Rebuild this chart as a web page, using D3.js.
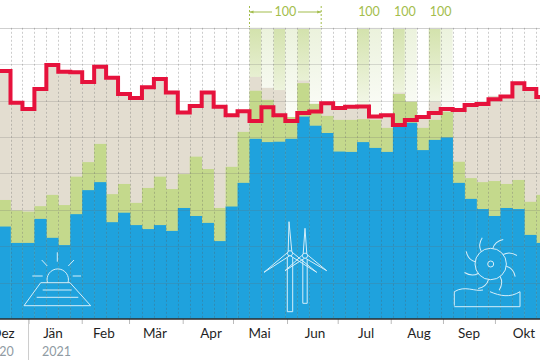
<!DOCTYPE html>
<html>
<head>
<meta charset="utf-8">
<script src="https://cdn.jsdelivr.net/npm/d3@7"></script>
<style>
    html, body { margin: 0; padding: 0; background: #fff; overflow: hidden; }
    text { font-family: Lato, "Open Sans", sans-serif; }
</style>
</head>
<body>
<div id="draw_here"></div>
<script type="text/javascript">
    // cumulative tops per half month, in TWh
    hydro = [2.54,2.09,2.09,2.75,2.23,2.03,2.88,3.54,3.76,2.66,2.92,2.58,2.47,2.58,2.42,3.05,2.83,2.64,2.14,3.09,3.74,4.95,4.86,4.87,4.95,5.56,5.31,5.11,4.60,4.59,4.86,4.70,4.59,5.28,5.39,4.64,4.92,4.99,3.74,3.30,3.02,2.83,3.05,3.02,2.31,2.09]
    renewable = [3.27,2.98,2.95,3.10,3.41,3.13,3.91,4.31,4.81,3.43,3.71,3.19,3.60,3.91,3.57,3.98,4.46,4.12,3.05,4.18,5.14,6.27,6.02,5.60,5.55,6.48,5.91,5.58,5.47,5.47,5.49,5.47,5.25,6.18,5.97,5.25,5.47,5.69,4.32,3.87,3.76,3.79,3.71,3.82,3.22,3.41]
    total = [6.81,5.93,5.74,6.29,6.95,6.79,6.76,6.48,6.92,6.62,6.15,6.04,6.35,6.57,6.21,5.66,5.82,6.21,5.82,5.60,5.69,6.65,6.35,6.29,5.55,6.55,5.91,5.93,5.80,5.82,5.82,5.55,5.60,6.22,5.97,5.60,5.97,5.80,5.74,5.88,5.91,6.13,6.15,6.51,6.35,6.13]
    demand = [6.81,5.94,5.77,6.32,6.98,6.79,6.78,6.51,6.93,6.63,6.18,6.07,6.37,6.59,6.22,5.67,5.85,6.22,5.83,5.60,5.71,5.44,5.82,5.60,5.44,5.66,5.70,5.93,5.80,5.83,5.84,5.56,5.60,5.33,5.47,5.55,5.66,5.77,5.74,5.88,5.91,6.04,6.11,6.48,6.32,6.10]

    // half months where renewables covered everything
    fullDark = [21,23,25,30,33,36]
    fullLight = [22,24,26,31,34,37]

    months = ["Dez","Jän","Feb","Mär","Apr","Mai","Jun","Jul","Aug","Sep","Okt"]
    monthCenters = [0.37,4.56,8.82,13.09,17.78,21.84,26.48,30.75,35.18,39.37,43.97]
    monthTicks = [2.51,6.96,10.92,15.41,19.62,24.14,28.38,32.82,37.19,41.54]
    years = ["2020","2021"]
    yearCenters = [0.05,4.85]
    fullLabels = [24,31,34,37]

    canvas = ({width:540, height:360})

    blue = "#1fa2dd"
    green = "#c4d98c"
    beige = "#e3ddd0"
    red = "#e6123c"
    labelGreen = "#a3bd4c"

    x = d3.scaleLinear().domain([0, 46]).range([-1.45, 548.25])
    y = d3.scaleLinear().domain([0, 8]).range([319, 27.8])

    var svg = d3.select("#draw_here").append("svg")
        .attr("width", canvas.width)
        .attr("height", canvas.height)
        .style("display", "block")

    // Gradients for the 100 columns
    var defs = svg.append("defs")
    function gradient(id, col) {
        var g = defs.append("linearGradient").attr("id", id)
            .attr("x1", 0).attr("x2", 0).attr("y1", 0).attr("y2", 1)
        g.append("stop").attr("offset", "0%").attr("stop-color", col)
        g.append("stop").attr("offset", "100%").attr("stop-color", col).attr("stop-opacity", 0.15)
    }
    gradient("fade_dark", "#d3e2ac")
    gradient("fade_light", "#ebf2dc")

    function columns(list, fill) {
        svg.append("g").selectAll("rect").data(list).join("rect")
            .attr("x", d => x(d))
            .attr("width", d => x(d + 1) - x(d))
            .attr("y", y(8))
            .attr("height", y(5.5) - y(8))
            .attr("fill", fill)
    }
    columns(fullDark, "url(#fade_dark)")
    columns(fullLight, "url(#fade_light)")

    // Bars, back to front
    function bars(values, fill) {
        svg.append("g").selectAll("rect").data(values).join("rect")
            .attr("x", (d, i) => x(i))
            .attr("width", (d, i) => x(i + 1) - x(i) + 0.3)
            .attr("y", d => y(d))
            .attr("height", d => y(0) - y(d))
            .attr("fill", fill)
    }
    bars(total, beige)
    bars(renewable, green)
    bars(hydro, blue)

    // Grid
    svg.append("g").selectAll("line").data(d3.range(1, 9)).join("line")
        .attr("x1", 0).attr("x2", canvas.width)
        .attr("y1", d => Math.round(y(d)) + 0.5).attr("y2", d => Math.round(y(d)) + 0.5)
        .attr("stroke", d => d == 8 ? "#cfcfcf" : "#6b6b6b")
        .attr("stroke-opacity", d => d == 8 ? 1 : 0.22)

    svg.append("g").selectAll("line").data(d3.range(1, 46)).join("line")
        .attr("x1", d => Math.round(x(d)) + 0.5).attr("x2", d => Math.round(x(d)) + 0.5)
        .attr("y1", y(8)).attr("y2", y(0))
        .attr("stroke", "#555")
        .attr("stroke-opacity", 0.3)
        .attr("stroke-dasharray", "2,2")

    // Icons
    var icons = svg.append("g")
        .attr("fill", "none")
        .attr("stroke", "#d6eef9")
        .attr("stroke-width", 1)

    // solar
    icons.append("path").attr("d", "M24,305.7L90.7,305.7L70,282.7L40.7,282.7Z")
    icons.append("path").attr("d", "M42.7,290H71.7M36.7,297.3H78.3")
    icons.append("path").attr("d", "M47.5,282.7A10.7,10.7 0 1 1 68,282.7")
    icons.append("path").attr("d", "M57.3,252.3V261.7M41.7,260L47.3,266M74,260L68.3,266M32.3,276H42.7M72.7,276H81")

    // wind
    function turbine(hx, hy, top, left, right, bottom, w) {
        var g = icons.append("g")
        g.append("path").attr("d", `M${hx - w},${hy + 4}V${bottom}H${hx + w}V${hy + 4}`)
        g.append("circle").attr("cx", hx).attr("cy", hy).attr("r", 2.6)
        g.append("path").attr("d", `M${hx - 1.8},${hy - 2}L${top[0]},${top[1]}L${hx + 1.8},${hy - 2}`)
        g.append("path").attr("d", `M${hx - 2.2},${hy - 1}L${left[0]},${left[1]}L${hx - 0.5},${hy + 2.6}`)
        g.append("path").attr("d", `M${hx + 2.2},${hy - 1}L${right[0]},${right[1]}L${hx + 0.5},${hy + 2.6}`)
    }
    turbine(305, 255.7, [305, 228.3], [285, 270.7], [326.7, 270.7], 303.3, 2.2)
    turbine(290, 253.3, [289, 221.7], [264, 272.3], [316.7, 272.3], 311.7, 2.7)

    // hydro
    var wheel = icons.append("g").attr("transform", "translate(490.7,264)")
    wheel.append("circle").attr("r", 15.7)
    wheel.append("circle").attr("r", 3)
    wheel.selectAll("path").data(d3.range(8)).join("path")
        .attr("transform", d => `rotate(${d * 45 + 8})`)
        .attr("d", "M0,-15.7Q1,-23 9,-26")
    icons.append("path").attr("d", "M454.3,305.7V291.7C465,285 475,292 483,290M490,291.7C500,296 510,298 520,291.7V306.7H454.3")

    // Red line
    var steps = demand.flatMap((d, i) => [[i, d], [i + 1, d]])
    var line = d3.line().x(d => x(d[0])).y(d => y(d[1]))
    svg.append("path")
        .attr("fill", "none")
        .attr("stroke", red)
        .attr("stroke-width", 4)
        .attr("stroke-linejoin", "miter")
        .attr("d", line(steps))

    // 100 labels
    svg.append("g").selectAll("text").data(fullLabels).join("text")
        .attr("x", d => x(d))
        .attr("y", 16)
        .attr("text-anchor", "middle")
        .attr("font-size", 12.5)
        .attr("fill", labelGreen)
        .text("100")

    var bracket = svg.append("g").attr("stroke", labelGreen).attr("fill", "none")
    bracket.append("path")
        .attr("stroke-dasharray", "2,2")
        .attr("d", `M${x(21)},6V27M${x(27)},6V27`)
    bracket.append("path")
        .attr("d", `M${x(21)},12H272M298,12H${x(27)}`)
    bracket.append("path")
        .attr("fill", labelGreen)
        .attr("stroke", "none")
        .attr("d", `M${x(21)},12l4,-1.6v3.2ZM${x(27)},12l-4,-1.6v3.2Z`)

    // Axis
    var axisTicks = svg.append("g")
        .attr("transform", `translate(0,${y(0)})`)
        .call(d3.axisBottom(x).tickValues(monthTicks).tickSize(5).tickFormat("").tickSizeOuter(0))
    axisTicks.select(".domain").remove()
    axisTicks.selectAll("line").attr("stroke", "#bbb")

    svg.append("line")
        .attr("x1", x(monthTicks[0])).attr("x2", x(monthTicks[0]))
        .attr("y1", y(0)).attr("y2", canvas.height)
        .attr("stroke", "#ccc")

    svg.append("line")
        .attr("x1", 0).attr("x2", canvas.width)
        .attr("y1", y(0)).attr("y2", y(0))
        .attr("stroke", "#2b2b2b")
        .attr("stroke-width", 1.5)

    svg.append("g").selectAll("text").data(months).join("text")
        .attr("x", (d, i) => x(monthCenters[i]))
        .attr("y", 337.5)
        .attr("text-anchor", "middle")
        .attr("font-size", 13.5)
        .attr("fill", "#1f1f1f")
        .text(d => d)

    svg.append("g").selectAll("text").data(years).join("text")
        .attr("x", (d, i) => x(yearCenters[i]))
        .attr("y", 356)
        .attr("text-anchor", "middle")
        .attr("font-size", 12.5)
        .attr("fill", "#8f9ba3")
        .text(d => d)
</script>
</body>
</html>
